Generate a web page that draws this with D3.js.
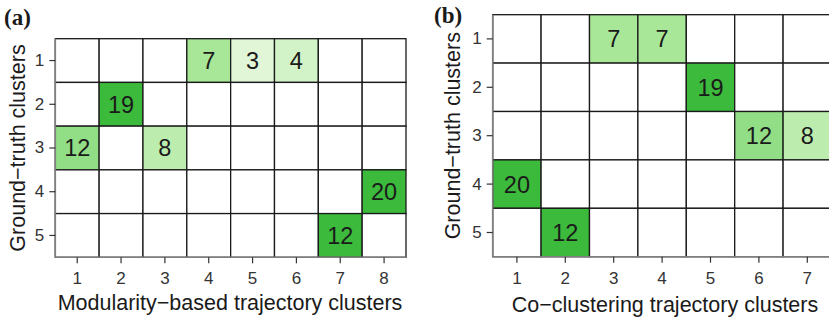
<!DOCTYPE html>
<html><head><meta charset="utf-8">
<script src="https://cdn.jsdelivr.net/npm/d3@7"></script>
<style>body{margin:0;background:#fff}svg{display:block}</style>
</head><body>
<svg id="c" width="829" height="321"></svg>
<script>
const rowLabels = ["1","2","3","4","5"];
const colLabelsA = ["1","2","3","4","5","6","7","8"];
const colLabelsB = ["1","2","3","4","5","6","7"];
const countsA = [
  [0,0,0,7,3,4,0,0],
  [0,19,0,0,0,0,0,0],
  [12,0,8,0,0,0,0,0],
  [0,0,0,0,0,0,0,20],
  [0,0,0,0,0,0,12,0]
];
const countsB = [
  [0,0,7,7,0,0,0],
  [0,0,0,0,19,0,0],
  [0,0,0,0,0,12,8],
  [20,0,0,0,0,0,0],
  [0,12,0,0,0,0,0]
];
const xTitleA = "Modularity\u2212based trajectory clusters";
const xTitleB = "Co\u2212clustering trajectory clusters";
const yTitle = "Ground\u2212truth clusters";

const svg = d3.select("#c");
const color = d3.scaleLinear().domain([0.2,0.5,1]).range(["#e3f7da","#a8e798","#3cba3c"]).clamp(true);
const FONT = "'Liberation Sans', Arial, Helvetica, sans-serif";

function panel(cfg){
  const g = svg.append("g");
  const x = d3.scaleBand().domain(cfg.cols).range([cfg.x0, cfg.x1]);
  const y = d3.scaleBand().domain(rowLabels).range([cfg.y0, cfg.y1]);
  const cells = [];
  cfg.counts.forEach((row,i)=>{
    const tot = d3.sum(row);
    row.forEach((v,j)=>cells.push({r:rowLabels[i], c:cfg.cols[j], v, f: v/tot}));
  });
  g.selectAll("rect.cell").data(cells).join("rect")
    .attr("x",d=>x(d.c)).attr("y",d=>y(d.r))
    .attr("width",x.bandwidth()).attr("height",y.bandwidth())
    .attr("fill",d=>d.v>0?color(d.f):"#fff")
    .attr("stroke","#1a1a1a").attr("stroke-width",1.3);
  g.selectAll("text.val").data(cells.filter(d=>d.v>0)).join("text")
    .attr("x",d=>x(d.c)+x.bandwidth()/2).attr("y",d=>y(d.r)+y.bandwidth()/2)
    .attr("dy","0.36em").attr("text-anchor","middle")
    .attr("font-family",FONT).attr("font-size",23.5).attr("fill","#1a1a1a")
    .text(d=>d.v);
  const xa = g.append("g").attr("transform",`translate(0,${cfg.y1})`)
    .call(d3.axisBottom(x).tickSize(6).tickPadding(9));
  const ya = g.append("g").attr("transform",`translate(${cfg.x0},0)`)
    .call(d3.axisLeft(y).tickSize(6).tickPadding(5));
  [xa,ya].forEach(a=>{
    a.select(".domain").attr("stroke","#7f7f7f").attr("stroke-width",1.6);
    a.selectAll(".tick line").attr("stroke","#333").attr("stroke-width",1.2);
    a.selectAll(".tick text").attr("font-family",FONT).attr("font-size",17).attr("fill","#333");
  });
  ya.select(".domain").attr("d",`M0,${cfg.y0}V${cfg.y1}`);
  xa.select(".domain").attr("d",`M${cfg.x0},0H${cfg.x1}`);
  g.append("text").attr("x",cfg.xtX).attr("y",cfg.xtY)
    .attr("text-anchor","middle").attr("font-family",FONT).attr("font-size",21.5).attr("fill","#1a1a1a")
    .text(cfg.xTitle);
  g.append("text").attr("transform",`translate(${cfg.ytX},${(cfg.y0+cfg.y1)/2}) rotate(-90)`)
    .attr("text-anchor","middle").attr("font-family",FONT).attr("font-size",21.5).attr("fill","#1a1a1a")
    .text(yTitle);
  g.append("text").attr("x",cfg.lx).attr("y",cfg.ly)
    .attr("font-family","'Liberation Serif', 'Times New Roman', serif").attr("font-weight","bold")
    .attr("font-size",23).attr("fill","#1a1a1a").text(cfg.label);
}

panel({cols:colLabelsA, counts:countsA, x0:55.3, x1:406, y0:38.7, y1:257.3,
  xTitle:xTitleA, xtX:230, xtY:310, ytX:24.5, label:"(a)", lx:4, ly:25});
panel({cols:colLabelsB, counts:countsB, x0:492.7, x1:831.5, y0:14.7, y1:256.7,
  xTitle:xTitleB, xtX:665, xtY:312, ytX:459.5, label:"(b)", lx:434, ly:23});
</script>
</body></html>
